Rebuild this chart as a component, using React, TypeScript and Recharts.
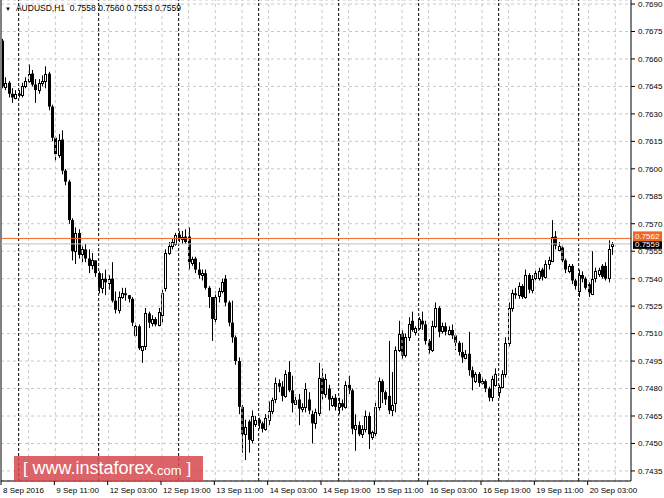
import React from 'react';
import { ComposedChart, Bar, XAxis, YAxis, CartesianGrid, ReferenceLine } from 'recharts';

// AUDUSD H1 candles, 8 Sep 2016 19:00 -> 20 Sep 2016 10:00 (one entry per bar)
const opens = [
  0.7670, 0.7645, 0.7647, 0.7641, 0.7639, 0.7641, 0.7640, 0.7645, 0.7648, 0.7652,
  0.7646, 0.7643, 0.7647, 0.7648, 0.7652, 0.7634, 0.7617, 0.7608, 0.7616, 0.7599,
  0.7593, 0.7572, 0.7555, 0.7565, 0.7553, 0.7556, 0.7551, 0.7547, 0.7550, 0.7543,
  0.7535, 0.7540, 0.7538, 0.7540, 0.7528, 0.7523, 0.7530, 0.7532, 0.7531, 0.7529,
  0.7509, 0.7514, 0.7501, 0.7503, 0.7521, 0.7516, 0.7518, 0.7515, 0.7520, 0.7535,
  0.7554, 0.7558, 0.7559, 0.7564, 0.7562, 0.7563, 0.7563, 0.7549, 0.7551, 0.7545,
  0.7542, 0.7543, 0.7535, 0.7530, 0.7518, 0.7530, 0.7533, 0.7540, 0.7527, 0.7516,
  0.7508, 0.7495, 0.7470, 0.7455, 0.7462, 0.7452, 0.7461, 0.7463, 0.7461, 0.7458,
  0.7463, 0.7468, 0.7474, 0.7483, 0.7481, 0.7476, 0.7489, 0.7479, 0.7472, 0.7474,
  0.7469, 0.7470, 0.7474, 0.7466, 0.7461, 0.7467, 0.7486, 0.7477, 0.7480, 0.7471,
  0.7475, 0.7470, 0.7472, 0.7470, 0.7482, 0.7479, 0.7458, 0.7460, 0.7455, 0.7458,
  0.7465, 0.7453, 0.7456, 0.7470, 0.7484, 0.7478, 0.7476, 0.7468, 0.7472, 0.7501,
  0.7510, 0.7498, 0.7508, 0.7517, 0.7511, 0.7513, 0.7517, 0.7515, 0.7506, 0.7501,
  0.7514, 0.7524, 0.7511, 0.7514, 0.7510, 0.7512, 0.7509, 0.7505, 0.7500, 0.7497,
  0.7499, 0.7490, 0.7484, 0.7488, 0.7483, 0.7484, 0.7480, 0.7475, 0.7482, 0.7478,
  0.7481, 0.7488, 0.7505, 0.7524, 0.7532, 0.7531, 0.7536, 0.7530, 0.7542, 0.7534,
  0.7540, 0.7540, 0.7545, 0.7541, 0.7548, 0.7550, 0.7563, 0.7556, 0.7557, 0.7550,
  0.7544, 0.7547, 0.7539, 0.7533, 0.7542, 0.7540, 0.7537, 0.7532, 0.7540, 0.7543,
  0.7547, 0.7547, 0.7540, 0.7558,
];

const highs = [
  0.7671, 0.7650, 0.7648, 0.7644, 0.7643, 0.7643, 0.7647, 0.7650, 0.7657, 0.7654,
  0.7649, 0.7649, 0.7651, 0.7656, 0.7653, 0.7635, 0.7618, 0.7619, 0.7621, 0.7600,
  0.7594, 0.7573, 0.7568, 0.7567, 0.7558, 0.7559, 0.7556, 0.7554, 0.7550, 0.7544,
  0.7543, 0.7545, 0.7542, 0.7549, 0.7533, 0.7533, 0.7535, 0.7535, 0.7531, 0.7530,
  0.7516, 0.7515, 0.7503, 0.7524, 0.7522, 0.7520, 0.7519, 0.7524, 0.7534, 0.7556,
  0.7560, 0.7562, 0.7565, 0.7566, 0.7566, 0.7567, 0.7568, 0.7552, 0.7552, 0.7549,
  0.7545, 0.7545, 0.7536, 0.7530, 0.7533, 0.7535, 0.7540, 0.7542, 0.7528, 0.7528,
  0.7509, 0.7497, 0.7471, 0.7463, 0.7463, 0.7468, 0.7465, 0.7464, 0.7462, 0.7466,
  0.7473, 0.7475, 0.7486, 0.7485, 0.7484, 0.7490, 0.7495, 0.7487, 0.7477, 0.7477,
  0.7472, 0.7483, 0.7478, 0.7468, 0.7469, 0.7494, 0.7491, 0.7488, 0.7482, 0.7476,
  0.7477, 0.7475, 0.7474, 0.7484, 0.7487, 0.7480, 0.7466, 0.7462, 0.7460, 0.7468,
  0.7467, 0.7457, 0.7473, 0.7486, 0.7485, 0.7479, 0.7506, 0.7489, 0.7503, 0.7517,
  0.7512, 0.7510, 0.7519, 0.7522, 0.7514, 0.7519, 0.7522, 0.7517, 0.7507, 0.7517,
  0.7527, 0.7525, 0.7516, 0.7516, 0.7514, 0.7515, 0.7510, 0.7506, 0.7505, 0.7501,
  0.7511, 0.7492, 0.7489, 0.7489, 0.7486, 0.7485, 0.7481, 0.7487, 0.7491, 0.7482,
  0.7490, 0.7508, 0.7527, 0.7534, 0.7535, 0.7538, 0.7537, 0.7545, 0.7543, 0.7542,
  0.7545, 0.7546, 0.7546, 0.7550, 0.7552, 0.7572, 0.7566, 0.7560, 0.7558, 0.7551,
  0.7548, 0.7548, 0.7540, 0.7545, 0.7544, 0.7541, 0.7538, 0.7555, 0.7546, 0.7546,
  0.7548, 0.7549, 0.7561, 0.7560,
];

const lows = [
  0.7644, 0.7643, 0.7639, 0.7636, 0.7638, 0.7639, 0.7639, 0.7644, 0.7647, 0.7645,
  0.7636, 0.7641, 0.7645, 0.7644, 0.7632, 0.7615, 0.7604, 0.7606, 0.7597, 0.7591,
  0.7570, 0.7550, 0.7548, 0.7551, 0.7549, 0.7549, 0.7543, 0.7545, 0.7541, 0.7532,
  0.7532, 0.7531, 0.7534, 0.7527, 0.7521, 0.7521, 0.7529, 0.7528, 0.7527, 0.7514,
  0.7508, 0.7501, 0.7494, 0.7501, 0.7513, 0.7514, 0.7514, 0.7514, 0.7516, 0.7533,
  0.7553, 0.7556, 0.7558, 0.7560, 0.7559, 0.7559, 0.7545, 0.7547, 0.7543, 0.7540,
  0.7539, 0.7534, 0.7524, 0.7506, 0.7515, 0.7527, 0.7532, 0.7525, 0.7514, 0.7505,
  0.7493, 0.7466, 0.7445, 0.7441, 0.7445, 0.7450, 0.7459, 0.7458, 0.7456, 0.7457,
  0.7460, 0.7466, 0.7472, 0.7478, 0.7473, 0.7475, 0.7478, 0.7467, 0.7471, 0.7460,
  0.7467, 0.7467, 0.7466, 0.7450, 0.7458, 0.7465, 0.7474, 0.7475, 0.7468, 0.7470,
  0.7468, 0.7466, 0.7468, 0.7469, 0.7477, 0.7455, 0.7446, 0.7454, 0.7453, 0.7456,
  0.7447, 0.7452, 0.7454, 0.7468, 0.7472, 0.7471, 0.7466, 0.7465, 0.7467, 0.7500,
  0.7496, 0.7497, 0.7506, 0.7511, 0.7509, 0.7512, 0.7512, 0.7504, 0.7499, 0.7500,
  0.7513, 0.7508, 0.7510, 0.7509, 0.7509, 0.7507, 0.7501, 0.7498, 0.7494, 0.7496,
  0.7487, 0.7479, 0.7483, 0.7481, 0.7482, 0.7478, 0.7473, 0.7473, 0.7481, 0.7475,
  0.7480, 0.7486, 0.7503, 0.7522, 0.7529, 0.7529, 0.7529, 0.7529, 0.7532, 0.7532,
  0.7539, 0.7539, 0.7539, 0.7540, 0.7545, 0.7549, 0.7556, 0.7555, 0.7549, 0.7543,
  0.7543, 0.7537, 0.7534, 0.7530, 0.7538, 0.7534, 0.7530, 0.7531, 0.7538, 0.7541,
  0.7540, 0.7539, 0.7538, 0.7553,
];

const closes = [
  0.7645, 0.7647, 0.7641, 0.7639, 0.7641, 0.7640, 0.7645, 0.7648, 0.7652, 0.7646,
  0.7643, 0.7647, 0.7648, 0.7652, 0.7634, 0.7617, 0.7608, 0.7616, 0.7599, 0.7593,
  0.7572, 0.7555, 0.7565, 0.7553, 0.7556, 0.7551, 0.7547, 0.7550, 0.7543, 0.7535,
  0.7540, 0.7538, 0.7540, 0.7528, 0.7523, 0.7530, 0.7532, 0.7531, 0.7529, 0.7516,
  0.7514, 0.7502, 0.7503, 0.7521, 0.7516, 0.7518, 0.7515, 0.7522, 0.7532, 0.7554,
  0.7558, 0.7560, 0.7564, 0.7562, 0.7563, 0.7560, 0.7549, 0.7551, 0.7545, 0.7542,
  0.7543, 0.7535, 0.7530, 0.7518, 0.7530, 0.7533, 0.7538, 0.7527, 0.7516, 0.7508,
  0.7495, 0.7470, 0.7455, 0.7459, 0.7452, 0.7465, 0.7463, 0.7461, 0.7458, 0.7464,
  0.7468, 0.7474, 0.7483, 0.7481, 0.7476, 0.7488, 0.7479, 0.7472, 0.7474, 0.7469,
  0.7470, 0.7480, 0.7468, 0.7461, 0.7467, 0.7486, 0.7477, 0.7485, 0.7474, 0.7475,
  0.7470, 0.7472, 0.7470, 0.7482, 0.7479, 0.7458, 0.7460, 0.7455, 0.7458, 0.7465,
  0.7455, 0.7456, 0.7470, 0.7484, 0.7478, 0.7474, 0.7468, 0.7471, 0.7501, 0.7510,
  0.7498, 0.7508, 0.7515, 0.7512, 0.7513, 0.7518, 0.7515, 0.7506, 0.7501, 0.7514,
  0.7524, 0.7511, 0.7514, 0.7511, 0.7512, 0.7509, 0.7505, 0.7500, 0.7497, 0.7499,
  0.7490, 0.7486, 0.7488, 0.7483, 0.7484, 0.7480, 0.7475, 0.7485, 0.7488, 0.7481,
  0.7488, 0.7505, 0.7524, 0.7532, 0.7531, 0.7536, 0.7530, 0.7542, 0.7534, 0.7540,
  0.7543, 0.7544, 0.7541, 0.7548, 0.7550, 0.7563, 0.7558, 0.7558, 0.7550, 0.7545,
  0.7547, 0.7539, 0.7536, 0.7542, 0.7540, 0.7535, 0.7532, 0.7540, 0.7544, 0.7545,
  0.7541, 0.7540, 0.7556, 0.7559,
];

// time axis: labelled bars and their captions
const tickBars = [0, 16, 32, 48, 64, 80, 96, 112, 128, 144, 160, 176];
const tickLabels = [
  '8 Sep 2016', '9 Sep 11:00', '12 Sep 03:00', '12 Sep 19:00', '13 Sep 11:00', '14 Sep 03:00',
  '14 Sep 19:00', '15 Sep 11:00', '16 Sep 03:00', '16 Sep 19:00', '19 Sep 11:00', '20 Sep 03:00',
];
// light vertical grid every 8 bars, dark separators at the start of each day
const gridBars = [8, 16, 24, 32, 40, 48, 56, 64, 72, 80, 88, 96, 104, 112, 120, 128, 136, 144, 152, 160, 168, 176, 184];
const daySeparators = [5, 29, 53, 77, 101, 125, 149, 173];

const priceTicks = [
  0.7435, 0.7450, 0.7465, 0.7480, 0.7495, 0.7510, 0.7525, 0.7540, 0.7555,
  0.7570, 0.7585, 0.7600, 0.7615, 0.7630, 0.7645, 0.7660, 0.7675, 0.7690,
];
const askPrice = 0.7562;
const bidPrice = 0.7559;
const title = 'AUDUSD,H1  0.7558 0.7560 0.7553 0.7559';

const FONT = '"Liberation Sans", Arial, sans-serif';

const data = opens.map((o, i) => ({
  i,
  open: o,
  high: highs[i],
  low: lows[i],
  close: closes[i],
  range: [lows[i], highs[i]],
}));

const Candle = (props: any) => {
  const { x, y, width, height, payload } = props;
  const { open, close, high, low } = payload;
  const cx = Math.round(x + width / 2);
  const k = height / (high - low || 1);
  const top = y + (high - Math.max(open, close)) * k;
  const bot = y + (high - Math.min(open, close)) * k;
  const up = close >= open;
  return (
    <g>
      <line x1={cx + 0.5} x2={cx + 0.5} y1={y} y2={y + height} stroke="#000" strokeWidth={1} />
      {up ? (
        <rect
          x={cx - 0.5}
          y={Math.round(top) + 0.5}
          width={2}
          height={Math.max(Math.round(bot - top), 1)}
          fill="#fff"
          stroke="#000"
          strokeWidth={1}
        />
      ) : (
        <rect x={cx - 1} y={top} width={3} height={Math.max(bot - top, 1)} fill="#000" />
      )}
    </g>
  );
};

const TimeTick = (props: any) => {
  const { x, y, payload } = props;
  const label = tickLabels[tickBars.indexOf(payload.value)];
  return (
    <g>
      <line x1={x - 1} x2={x - 1} y1={y} y2={y + 4} stroke="#000" />
      <text x={x + 1} y={y + 12} fontSize={8} fontFamily={FONT} fill="#000" textAnchor="start">
        {label}
      </text>
    </g>
  );
};

const PriceTag = (props: any) => {
  const { viewBox, value, bg, dy } = props;
  const left = viewBox.x + viewBox.width + 2;
  const cy = viewBox.y + dy;
  return (
    <g>
      <rect x={left} y={cy - 5} width={29} height={10} fill={bg} />
      <text x={left + 2} y={cy + 3} fontSize={8} fontFamily={FONT} fill="#fff">
        {value}
      </text>
    </g>
  );
};

export default function App() {
  return (
    <div style={{ position: 'absolute', left: 0, top: 0, width: 664, height: 498, background: '#fff', overflow: 'hidden' }}>
      <ComposedChart width={664} height={498} data={data} margin={{ top: 0, right: 0, bottom: 0, left: 1 }}>
        <CartesianGrid vertical={false} stroke="#c8c8c8" strokeDasharray="3 3" />
        {gridBars.map((b) => (
          <ReferenceLine key={'g' + b} x={b} stroke="#c8c8c8" strokeDasharray="3 3" />
        ))}
        {daySeparators.map((b) => (
          <ReferenceLine key={'d' + b} x={b} stroke="#000" strokeDasharray="3 2" />
        ))}
        <ReferenceLine x={-0.3} stroke="#808080" strokeWidth={2} />
        <XAxis
          type="number"
          dataKey="i"
          domain={[-0.3, 188.7]}
          ticks={tickBars}
          interval={0}
          height={17}
          tickSize={0}
          tickMargin={0}
          stroke="#000"
          tick={<TimeTick />}
          allowDataOverflow
        />
        <YAxis
          orientation="right"
          width={33}
          domain={[0.74295, 0.76922]}
          ticks={priceTicks}
          interval={0}
          tickSize={4}
          tickMargin={3}
          stroke="#000"
          tickFormatter={(v: number) => v.toFixed(4)}
          tick={{ fontSize: 8, fontFamily: FONT, fill: '#000' }}
          allowDataOverflow
        />
        <ReferenceLine
          y={bidPrice}
          stroke="#c0c0c0"
          label={(p: any) => <PriceTag {...p} value={bidPrice.toFixed(4)} bg="#000" dy={0} />}
        />
        <ReferenceLine
          y={askPrice}
          stroke="#f26522"
          label={(p: any) => <PriceTag {...p} value={askPrice.toFixed(4)} bg="#f26522" dy={-2} />}
        />
        <Bar dataKey="range" barSize={3} shape={<Candle />} isAnimationActive={false} />
      </ComposedChart>
      <div
        style={{
          position: 'absolute',
          left: 5,
          top: 2,
          fontFamily: FONT,
          fontSize: 8.5,
          color: '#000',
          whiteSpace: 'pre',
          lineHeight: '12px',
        }}
      >
        <span style={{ fontSize: 6, marginRight: 5 }}>▼</span>
        {title}
      </div>
      <div
        style={{
          position: 'absolute',
          left: 14,
          top: 456,
          width: 189,
          height: 25,
          background: 'rgba(214, 72, 76, 0.85)',
          color: '#fff',
          fontFamily: FONT,
          display: 'flex',
          alignItems: 'center',
          whiteSpace: 'pre',
        }}
      >
        <span style={{ fontSize: 17, marginLeft: 9 }}>[ </span>
        <span style={{ fontSize: 18 }}>www.instaforex</span>
        <span style={{ fontSize: 13, marginTop: 3 }}>.com</span>
        <span style={{ fontSize: 17 }}> ]</span>
      </div>
    </div>
  );
}
